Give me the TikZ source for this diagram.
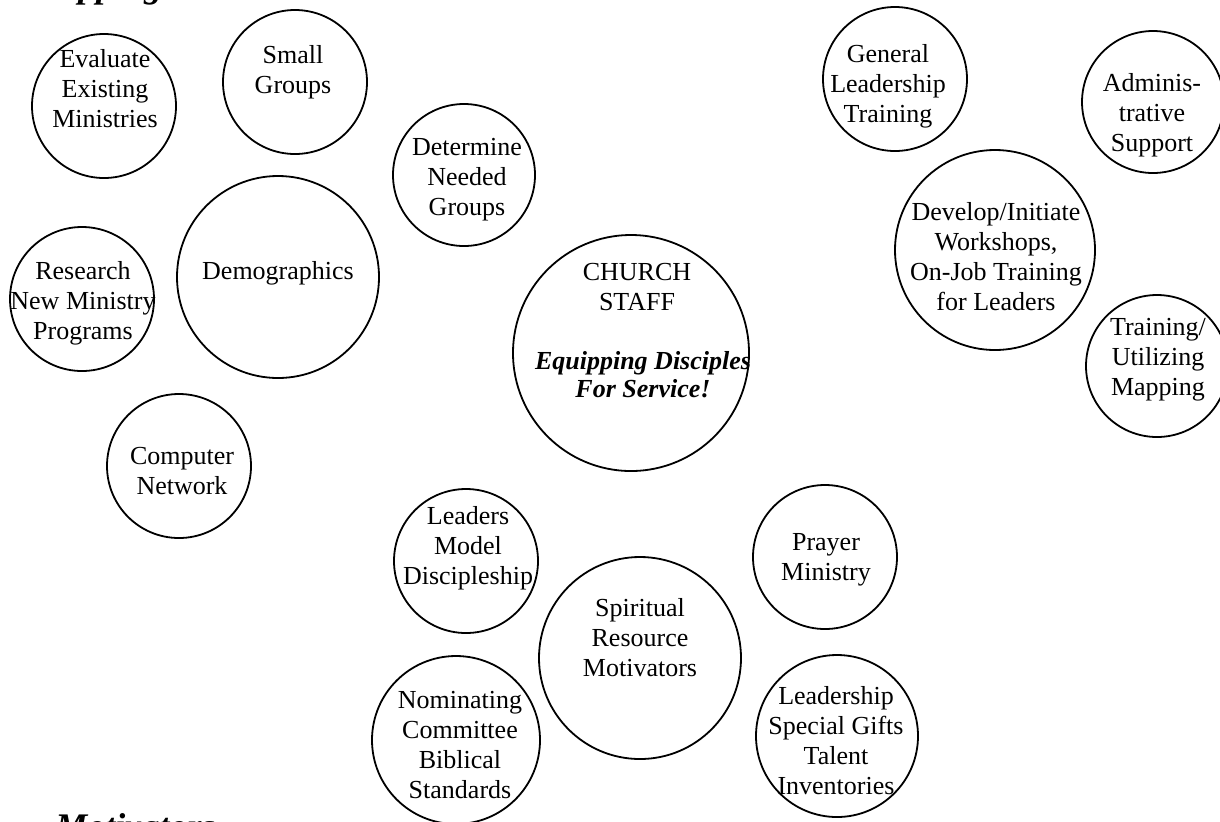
\documentclass[tikz,border=0pt]{standalone}
\usepackage{fontspec}
\setmainfont{Liberation Serif}
\tikzset{
  bub/.style={draw, circle, line width=0.9pt, inner sep=0pt, minimum size=#1},
  txt/.style={align=center, inner sep=0pt, font=\fontsize{13}{15}\selectfont},
  head/.style={inner sep=0pt, anchor=base west, font=\fontsize{18}{22}\selectfont\bfseries\itshape}
}

\begin{document}
\begin{tikzpicture}[x=0.5pt, y=-0.5pt]
\useasboundingbox (0,0) rectangle (1220,821);
\clip (0,0) rectangle (1220,821);
%\draw[red] (0,0) rectangle (1220,821);
\node[head] (mapT) at (28,-3) {Mapping};
\node[head] (motT) at (55,838) {Motivators};

% left group
\node[bub=72pt] (evaluate) at (104,106) {};
\node[txt] (evaluateT) at (105,89) {Evaluate\\Existing\\Ministries};
\node[bub=72pt] (small) at (295,82) {};
\node[txt] (smallT) at (293,72) {Small\\Groups};
\node[bub=71pt] (determine) at (464,175) {};
\node[txt] (determineT) at (467,180) {Determine\\Needed\\Groups};
\node[bub=101pt] (demog) at (278,277) {};
\node[txt] (demogT) at (278,273) {Demographics};
\node[bub=72pt] (research) at (82,299) {};
\node[txt] (researchT) at (83,303) {Research\\New Ministry\\Programs};
\node[bub=72pt] (computer) at (179,466) {};
\node[txt] (computerT) at (182,471) {Computer\\Network};

% centre
\node[bub=118pt] (staff) at (631,353) {};
\node[txt] (staffT) at (637,287) {CHURCH\\STAFF};
\node[txt, font=\fontsize{13}{14}\selectfont\bfseries\itshape] (mottoT) at (643,375) {Equipping Disciples\\For Service!};

% right group
\node[bub=72pt] (general) at (895,79) {};
\node[txt] (generalT) at (888,86) {General\\Leadership\\Training};
\node[bub=71pt] (admin) at (1153,102) {};
\node[txt] (adminT) at (1152,115) {Adminis-\\trative\\Support};
\node[bub=100pt] (develop) at (995,250) {};
\node[txt] (developT) at (996,257) {Develop/Initiate\\Workshops,\\On-Job Training\\for Leaders};
\node[bub=71pt] (mapping) at (1157,366) {};
\node[txt] (mappingT) at (1158,360) {Training/\\Utilizing\\Mapping};

% bottom group
\node[bub=72pt] (leaders) at (466,561) {};
\node[txt] (leadersT) at (468,548) {Leaders\\Model\\Discipleship};
\node[bub=72pt] (prayer) at (825,557) {};
\node[txt] (prayerT) at (826,560) {Prayer\\Ministry};
\node[bub=101pt] (spiritual) at (640,658) {};
\node[txt] (spiritualT) at (640,638) {Spiritual\\Resource\\Motivators};
\node[bub=84pt] (nominate) at (456,740) {};
\node[txt] (nominateT) at (460,745) {Nominating\\Committee\\Biblical\\Standards};
\node[bub=81pt] (gifts) at (837,736) {};
\node[txt] (giftsT) at (836,741) {Leadership\\Special Gifts\\Talent\\Inventories};
\end{tikzpicture}
\end{document}
